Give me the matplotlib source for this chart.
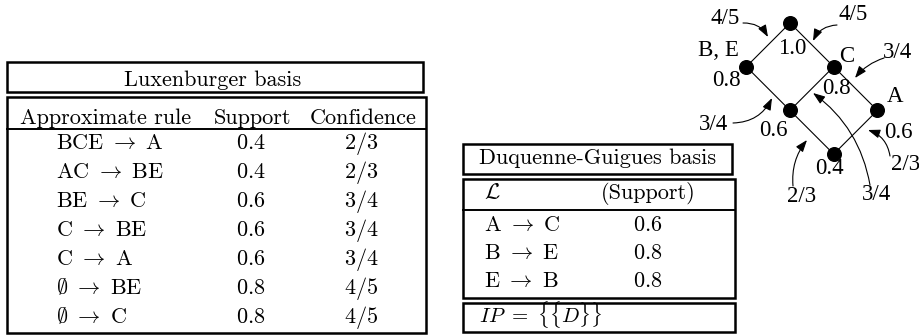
import matplotlib
matplotlib.use("Agg")
import matplotlib.pyplot as plt
from matplotlib.patches import Rectangle

plt.rcParams['mathtext.fontset'] = 'cm'

# Luxenburger basis (approximate rules)
lux_premise = ["BCE", "AC", "BE", "C", "C", r"\emptyset", r"\emptyset"]
lux_conclusion = ["A", "BE", "C", "BE", "A", "BE", "C"]
lux_support = [0.4, 0.4, 0.6, 0.6, 0.6, 0.8, 0.8]
lux_confidence = ["2/3", "2/3", "3/4", "3/4", "3/4", "4/5", "4/5"]
lux_header = ["Approximate rule", "Support", "Confidence"]

# Duquenne-Guigues basis (exact rules)
dg_premise = ["A", "B", "E"]
dg_conclusion = ["C", "E", "B"]
dg_support = [0.6, 0.8, 0.8]

# lattice of closed itemsets: (label, support, grid position u, v)
node_names = ["top", "BE", "C", "mid", "A", "bottom"]
node_labels = ["", "B, E", "C", "", "A", ""]
node_support = [1.0, 0.8, 0.8, 0.6, 0.6, 0.4]
node_grid = [(0, 0), (1, 0), (0, 1), (1, 1), (0, 2), (1, 2)]
lattice_edges = [("top", "BE"), ("top", "C"), ("BE", "mid"), ("C", "mid"),
                 ("C", "A"), ("mid", "bottom"), ("A", "bottom")]
# confidences of the arrows (edges of the lattice)
arrow_conf = ["4/5", "4/5", "3/4", "3/4", "2/3", "2/3", "3/4"]

fig = plt.figure(figsize=(9.2, 3.35), dpi=100)
ax = fig.add_axes([0, 0, 1, 1])
ax.set_xlim(0, 920)
ax.set_ylim(335, 0)
ax.axis('off')

lw_box = 1.8
fs = 16
cm = "cmr10"


def box(x0, y0, x1, y1):
    ax.add_patch(Rectangle((x0, y0), x1 - x0, y1 - y0, fill=False,
                           lw=lw_box, ec='black'))


def rule(p, c):
    p = p if p.startswith("\\") else r"\mathrm{" + p + "}"
    return "$" + p + r"\ \rightarrow\ \mathrm{" + c + "}$"


#%% Luxenburger table
box(7, 62, 423, 92)
ax.text(213, 86, "Luxenburger basis", ha='center', va='baseline', fontsize=fs, family=cm)
box(7, 97, 426, 333)
ax.plot([7, 426], [129, 129], color='black', lw=1.4)
for s, xc in zip(lux_header, [106, 253, 363]):
    ax.text(xc, 124, s, ha='center', va='baseline', fontsize=fs, family=cm)
for i in range(len(lux_premise)):
    yb = 149 + 29 * i
    ax.text(56, yb, rule(lux_premise[i], lux_conclusion[i]),
            ha='left', va='baseline', fontsize=fs)
    ax.text(251, yb, "$%.1f$" % lux_support[i], ha='center', va='baseline', fontsize=fs)
    ax.text(361, yb, "$%s$" % lux_confidence[i], ha='center', va='baseline', fontsize=fs)

#%% Duquenne-Guigues table
box(463, 144, 732, 174)
ax.text(598, 164, "Duquenne-Guigues basis", ha='center', va='baseline', fontsize=fs, family=cm)
box(463, 179, 735, 298)
ax.plot([463, 735], [210, 210], color='black', lw=1.4)
ax.text(484, 199, r"$\mathcal{L}$", ha='left', va='baseline', fontsize=fs)
ax.text(648, 199, "(Support)", ha='center', va='baseline', fontsize=fs, family=cm)
for i in range(len(dg_premise)):
    yb = 231 + 27.8 * i
    ax.text(484, yb, rule(dg_premise[i], dg_conclusion[i]),
            ha='left', va='baseline', fontsize=fs)
    ax.text(648, yb, "$%.1f$" % dg_support[i], ha='center', va='baseline', fontsize=fs)
box(463, 303, 735, 332)
ax.text(479, 322, r"$IP\ =\ \{\{D\}\}$", ha='left', va='baseline', fontsize=15)

#%% Lattice
x0, y0, step_x, step_y = 790, 23, 43.7, 43.7
pos = {}
for name, (u, v) in zip(node_names, node_grid):
    pos[name] = (x0 - step_x * u + step_x * v, y0 + step_y * (u + v))

for a, b in lattice_edges:
    ax.plot([pos[a][0], pos[b][0]], [pos[a][1], pos[b][1]], color='black', lw=0.8, zorder=2)
for name in node_names:
    ax.plot(*pos[name], 'o', color='black', ms=9.8, zorder=3)

serif = "Liberation Serif"
lfs = 16.5
# itemset labels and supports
label_xy = {"BE": (718, 51), "C": (847, 56), "A": (895, 97)}
supp_xy = {"top": (792, 48), "BE": (726, 81), "C": (836, 89),
           "mid": (773, 130), "A": (898, 132), "bottom": (829, 168)}
for name, lab, s in zip(node_names, node_labels, node_support):
    if lab:
        ax.text(*label_xy[name], lab, ha='center', va='center', fontsize=lfs, family=serif)
    ax.text(*supp_xy[name], "%.1f" % s, ha='center', va='center', fontsize=lfs, family=serif)

# confidence arrows: label position, start, tip, curvature
arrow_text = [(725, 18), (853, 14), (898, 52), (714, 125), (906, 165), (802, 197), (877, 195)]
arrow_start = [(743, 23), (837, 25), (884, 58), (733, 123), (890, 156), (793, 186), (870, 185)]
arrow_tip = [(768, 37), (813, 41), (855, 78), (772, 98), (868, 130), (807, 140), (813, 93)]
arrow_rad = [-0.3, 0.3, 0.15, 0.3, 0.3, -0.2, 0.2]
for c, t, s, e, r in zip(arrow_conf, arrow_text, arrow_start, arrow_tip, arrow_rad):
    ax.text(*t, c, ha='center', va='center', fontsize=lfs, family=serif)
    ax.annotate("", xy=e, xytext=s,
                arrowprops=dict(arrowstyle="-|>,head_length=0.6,head_width=0.22",
                                connectionstyle="arc3,rad=%s" % r,
                                color='black', lw=0.8, mutation_scale=12,
                                shrinkA=0, shrinkB=0))

fig.savefig("out.png", dpi=100)
